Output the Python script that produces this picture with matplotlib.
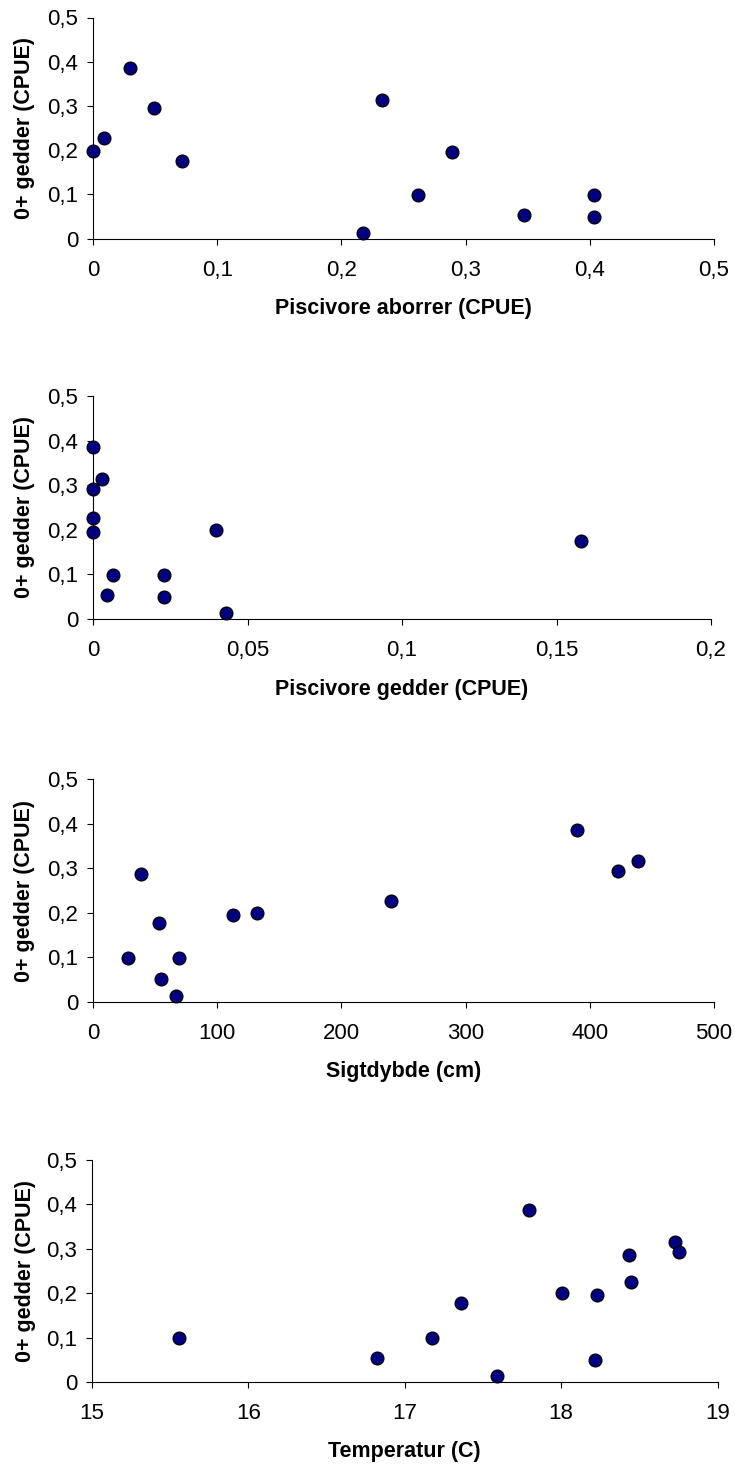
import matplotlib
matplotlib.use("Agg")
import matplotlib.pyplot as plt
from matplotlib.ticker import FixedLocator, FuncFormatter

plt.rcParams['font.family'] = ['Liberation Sans', 'DejaVu Sans']

# Panel 1: Piscivore aborrer (CPUE)
aborrer_x = [0.0, 0.009, 0.030, 0.049, 0.072, 0.217, 0.233, 0.289, 0.262, 0.347, 0.403, 0.403]
aborrer_y = [0.198, 0.228, 0.385, 0.295, 0.175, 0.013, 0.313, 0.197, 0.099, 0.054, 0.099, 0.050]

# Panel 2: Piscivore gedder (CPUE)
gedder_x = [0.0, 0.003, 0.0, 0.0, 0.0, 0.0065, 0.0046, 0.023, 0.023, 0.0397, 0.0431, 0.158]
gedder_y = [0.385, 0.314, 0.291, 0.226, 0.195, 0.099, 0.053, 0.099, 0.049, 0.199, 0.013, 0.176]

# Panel 3: Sigtdybde (cm)
sigt_x = [38.7, 53.4, 28.2, 69.6, 54.5, 67.1, 112.7, 132.4, 239.7, 389.7, 423.0, 439.0]
sigt_y = [0.286, 0.178, 0.099, 0.099, 0.051, 0.013, 0.196, 0.199, 0.226, 0.386, 0.293, 0.316]

# Panel 4: Temperatur (C)
temp_x = [15.557, 16.823, 17.175, 17.357, 17.589, 17.794, 18.005, 18.227, 18.218, 18.432, 18.447, 18.730, 18.752]
temp_y = [0.098, 0.053, 0.098, 0.177, 0.013, 0.387, 0.200, 0.196, 0.050, 0.285, 0.226, 0.315, 0.293]

y_label = "0+ gedder (CPUE)"
y_ticks = [0, 0.1, 0.2, 0.3, 0.4, 0.5]

panels = [
    (aborrer_x, aborrer_y, "Piscivore aborrer (CPUE)", [0, 0.1, 0.2, 0.3, 0.4, 0.5]),
    (gedder_x, gedder_y, "Piscivore gedder (CPUE)", [0, 0.05, 0.1, 0.15, 0.2]),
    (sigt_x, sigt_y, "Sigtdybde (cm)", [0, 100, 200, 300, 400, 500]),
    (temp_x, temp_y, "Temperatur (C)", [15, 16, 17, 18, 19]),
]

W, H = 735, 1466
fig = plt.figure(figsize=(W / 100, H / 100), dpi=100)

# pixel boxes: left, right, top, bottom
boxes = [
    (93, 714, 17.5, 238.7),
    (93, 711, 396, 619),
    (93, 714, 779, 1002),
    (92, 717.5, 1160, 1382),
]


def fmt(v, pos):
    s = ("%g" % v)
    return s.replace('.', ',')


for (xs, ys, xl, xt), (l, r, t, b) in zip(panels, boxes):
    ax = fig.add_axes([l / W, 1 - b / H, (r - l) / W, (b - t) / H])
    ax.scatter(xs, ys, s=85, c='#000080', edgecolors='black', linewidths=0.9,
               zorder=3, clip_on=False)
    ax.set_xlim(xt[0], xt[-1])
    ax.set_ylim(0, 0.5)
    ax.xaxis.set_major_locator(FixedLocator(xt))
    ax.yaxis.set_major_locator(FixedLocator(y_ticks))
    ax.xaxis.set_major_formatter(FuncFormatter(fmt))
    ax.yaxis.set_major_formatter(FuncFormatter(fmt))
    for s in ['top', 'right']:
        ax.spines[s].set_visible(False)
    for s in ['left', 'bottom']:
        ax.spines[s].set_linewidth(0.8)
        ax.spines[s].set_color('black')
    ax.tick_params(axis='x', direction='out', length=4.5, width=0.8, pad=10.5,
                   labelsize=16, colors='black')
    ax.tick_params(axis='y', direction='out', length=4.5, width=0.8, pad=6,
                   labelsize=16, colors='black')
    ax.set_xlabel(xl, fontsize=15.5, fontweight='bold')
    ax.set_ylabel(y_label, fontsize=15.5, fontweight='bold')
    hpx = b - t
    wpx = r - l
    ax.xaxis.set_label_coords(0.5, -70 / hpx)
    ax.xaxis.label.set_va('center')
    ax.yaxis.set_label_coords((25 - l) / wpx, 0.5)
    ax.yaxis.label.set_va('center')
    ax.patch.set_alpha(0)

fig.savefig("out.png", dpi=100, facecolor='white')
